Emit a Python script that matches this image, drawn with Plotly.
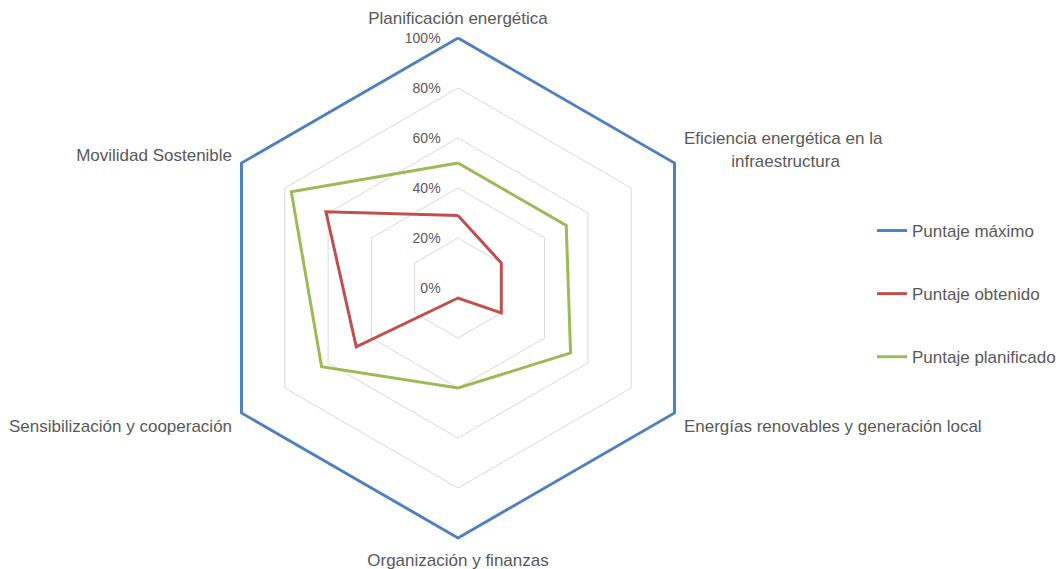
import plotly.graph_objects as go

categories = [
    "Planificación energética",
    "Eficiencia energética en la<br>" + "&nbsp;" * 10 + "infraestructura",
    "Energías renovables y generación local",
    "Organización y finanzas",
    "Sensibilización y cooperación",
    "Movilidad Sostenible",
]
puntaje_maximo = [100, 100, 100, 100, 100, 100]
puntaje_obtenido = [29, 20, 20, 4, 47, 61]
puntaje_planificado = [50, 50, 52, 40, 63, 77]
tick_vals = [0, 20, 40, 60, 80, 100]
tick_text = ["0%", "20%", "40%", "60%", "80%", "100%"]

series = [
    ("Puntaje máximo", puntaje_maximo, "#4f81bd"),
    ("Puntaje obtenido", puntaje_obtenido, "#c0504d"),
    ("Puntaje planificado", puntaje_planificado, "#9bbb59"),
]

fig = go.Figure()
for name, vals, color in series:
    fig.add_trace(go.Scatterpolar(
        r=vals + vals[:1],
        theta=categories + categories[:1],
        mode="lines",
        name=name,
        legendgroup=name,
        cliponaxis=False,
        line=dict(color=color, width=3),
    ))

W, H = 1061, 569
RMAX = 100.8
cx, cy, R = 458, 288, 250 * RMAX / 100
fig.update_layout(
    width=W, height=H,
    margin=dict(l=0, r=0, t=0, b=0),
    paper_bgcolor="white",
    plot_bgcolor="white",
    font=dict(family="Liberation Sans, Arial, sans-serif", size=17, color="#595959"),
    polar=dict(
        domain=dict(x=[(cx - R) / W, (cx + R) / W], y=[(H - cy - R) / H, (H - cy + R) / H]),
        gridshape="linear",
        bgcolor="white",
        radialaxis=dict(
            range=[0, RMAX],
            tickvals=tick_vals,
            ticktext=tick_text,
            angle=90,
            tickangle=90,
            side="counterclockwise",
            showline=False,
            gridcolor="#d9d9d9",
            gridwidth=1,
            ticks="outside",
            ticklen=12,
            tickcolor="rgba(0,0,0,0)",
            tickfont=dict(size=14, color="#595959"),
        ),
        angularaxis=dict(
            direction="clockwise",
            rotation=90,
            showgrid=False,
            showline=False,
            ticks="outside",
            ticklen=5,
            tickcolor="rgba(0,0,0,0)",
            tickfont=dict(size=17, color="#595959"),
        ),
    ),
    legend=dict(
        x=872 / W, y=1 - 213 / H, xanchor="left", yanchor="top",
        tracegroupgap=38,
        font=dict(size=17, color="#595959"),
    ),
)

fig.write_html(
    "out.html",
    config={"displayModeBar": False},
    post_script="document.body.style.margin='0';document.body.style.overflow='hidden';",
)
